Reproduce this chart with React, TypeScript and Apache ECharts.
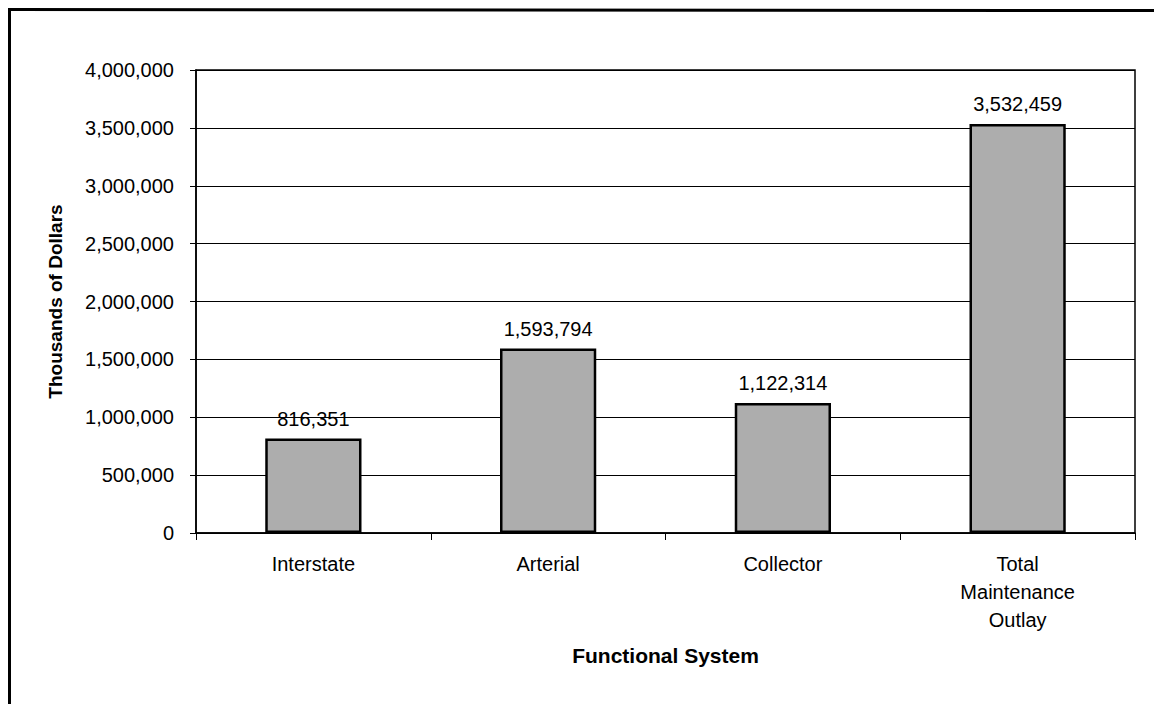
import React, { useEffect, useRef } from "react";
import * as echarts from "echarts";

const categories = ["Interstate", "Arterial", "Collector", "Total\nMaintenance\nOutlay"];
const values = [816351, 1593794, 1122314, 3532459];
const yTicks = { min: 0, max: 4000000, interval: 500000 };

const FONT = "'Liberation Sans', Arial, sans-serif";

export default function App() {
  const ref = useRef<HTMLDivElement>(null);
  useEffect(() => {
    const chart = echarts.init(ref.current!, null, { renderer: "svg" });
    chart.setOption({
      animation: false,
      backgroundColor: "#ffffff",
      textStyle: { fontFamily: FONT },
      graphic: [
        {
          type: "line",
          shape: { x1: 9, y1: 9.5, x2: 1154, y2: 10.5 },
          style: { stroke: "#000", lineWidth: 3 },
          silent: true,
        },
        {
          type: "line",
          shape: { x1: 9.5, y1: 8, x2: 9.5, y2: 704 },
          style: { stroke: "#000", lineWidth: 3 },
          silent: true,
        },
      ],
      grid: {
        left: 196,
        right: 19,
        top: 70,
        bottom: 171,
        containLabel: false,
        show: true,
        borderColor: "#000",
        borderWidth: 1.5,
      },
      xAxis: {
        type: "category",
        data: categories,
        name: "Functional System",
        nameLocation: "middle",
        nameGap: 112,
        nameTextStyle: { fontFamily: FONT, fontSize: 21, fontWeight: "bold", color: "#000" },
        axisLine: { show: true, lineStyle: { color: "#000", width: 1.5 } },
        axisTick: { show: true, alignWithLabel: false, length: 7, lineStyle: { color: "#000" } },
        axisLabel: { fontFamily: FONT, fontSize: 20, color: "#000", margin: 17, lineHeight: 28 },
      },
      yAxis: {
        type: "value",
        min: yTicks.min,
        max: yTicks.max,
        interval: yTicks.interval,
        name: "Thousands of Dollars",
        nameLocation: "middle",
        nameGap: 131,
        nameTextStyle: { fontFamily: FONT, fontSize: 19, fontWeight: "bold", color: "#000" },
        axisLine: { show: true, lineStyle: { color: "#000", width: 1.5 } },
        axisTick: { show: true, length: 6, lineStyle: { color: "#000" } },
        axisLabel: {
          fontFamily: FONT,
          fontSize: 20,
          color: "#000",
          margin: 22,
          formatter: (v: number) => v.toLocaleString("en-US"),
        },
        splitLine: { show: true, lineStyle: { color: "#000", width: 1.2 } },
      },
      series: [
        {
          type: "bar",
          data: values,
          barWidth: "41%",
          itemStyle: { color: "#adadad", borderColor: "#000", borderWidth: 2.5 },
          label: {
            show: true,
            position: "top",
            distance: 10,
            fontFamily: FONT,
            fontSize: 20,
            color: "#000",
            formatter: (p: any) => Number(p.value).toLocaleString("en-US"),
          },
        },
      ],
    });
    return () => chart.dispose();
  }, []);
  return (
    <div
      ref={ref}
      style={{ position: "absolute", left: 0, top: 0, width: 1154, height: 704 }}
    />
  );
}
